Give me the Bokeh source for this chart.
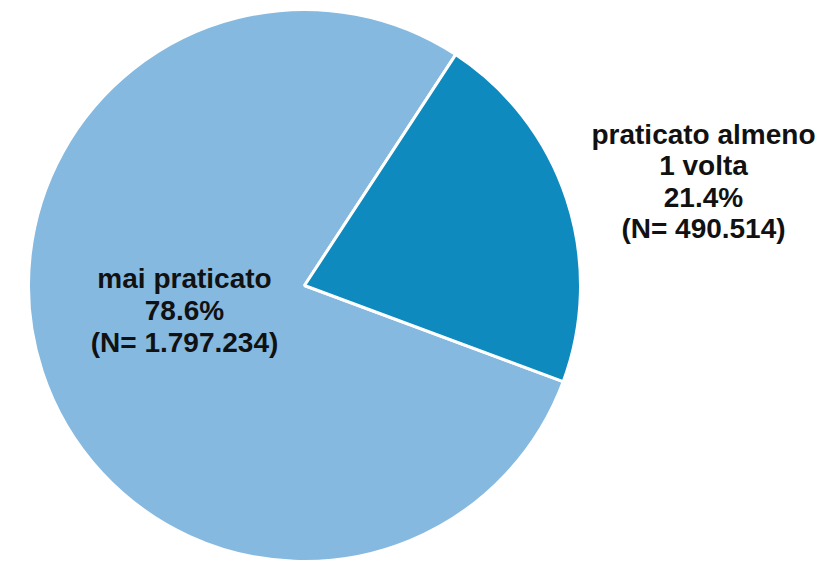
import math
from bokeh.plotting import figure
from bokeh.models import ColumnDataSource, Range1d
from bokeh.core.properties import value
from bokeh.embed import file_html
from bokeh.resources import INLINE

# ---- data ----
categories = ["mai praticato", "praticato almeno\n1 volta"]
counts = [1797234, 490514]
count_labels = ["1.797.234", "490.514"]
colors = ["#85B9E0", "#0F8ABF"]

# ---- layout constants ----
W, H = 822, 561
cx, cy = 304, H - 285
R = 276
start_cw_deg = 110.4  # clockwise-from-top angle where first slice starts

total = sum(counts)
fracs = [c / total for c in counts]

starts, ends = [], []
cw = start_cw_deg
for f in fracs:
    a0 = cw
    a1 = cw + f * 360
    starts.append(math.radians(90 - a1))
    ends.append(math.radians(90 - a0))
    cw = a1

src = ColumnDataSource(dict(start=starts, end=ends, color=colors))

p = figure(width=W, height=H, output_backend="svg", toolbar_location=None,
           x_range=Range1d(0, W), y_range=Range1d(0, H), min_border=0)
p.axis.visible = False
p.grid.visible = False
p.outline_line_color = None
p.background_fill_color = "white"

p.wedge(x=cx, y=cy, radius=R, start_angle="start", end_angle="end",
        fill_color="color", line_color="white", line_width=3, source=src)

labels = [f"{cat}\n{f*100:.1f}%\n(N= {n})" for cat, f, n in zip(categories, fracs, count_labels)]
lx = [184, 703]
ly = [H - 310, H - 181]
p.text(x=lx, y=ly, text=labels, text_align="center", text_baseline="middle",
       text_font=value("Liberation Sans"), text_font_style="bold",
       text_font_size="28px", text_color="#111111", text_line_height=1.02)

open("out.html", "w").write(file_html(p, INLINE))
